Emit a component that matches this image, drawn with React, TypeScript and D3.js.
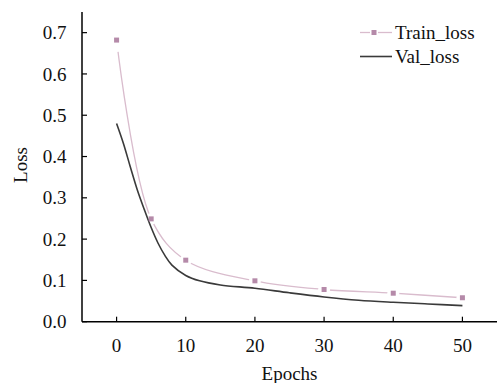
import React from "react";
import * as d3 from "d3";

const trainEpochs = [0, 5, 10, 20, 30, 40, 50];
const trainLoss = [0.682, 0.249, 0.149, 0.099, 0.078, 0.069, 0.058];
const valEpochs = [0, 1, 2, 3, 4, 5, 6, 7, 8, 10, 12, 15, 20, 25, 30, 35, 40, 45, 50];
const valLoss = [0.48, 0.431, 0.374, 0.319, 0.272, 0.228, 0.19, 0.16, 0.137, 0.112, 0.099, 0.089, 0.081, 0.07, 0.06, 0.052, 0.047, 0.043, 0.039];
const xTicks = [0, 10, 20, 30, 40, 50];
const yTicks = [0.0, 0.1, 0.2, 0.3, 0.4, 0.5, 0.6, 0.7];

const W = 497, H = 383;
const FONT = "'Liberation Serif', 'Times New Roman', serif";

export default function App() {
  const x = d3.scaleLinear().domain([-5, 55]).range([82, 497]);
  const y = d3.scaleLinear().domain([0, 0.75]).range([321.7, 12]);
  const trainData = trainEpochs.map((e, i) => [e, trainLoss[i]] as [number, number]);
  const valData = valEpochs.map((e, i) => [e, valLoss[i]] as [number, number]);
  const line = d3.line<[number, number]>().x(d => x(d[0])).y(d => y(d[1])).curve(d3.curveCatmullRom.alpha(0.5));
  const trainColor = "#d9bccd";
  const markerColor = "#b58aa9";
  const ms = 5;
  return (
    <svg width={W} height={H} style={{ position: "absolute", left: 0, top: 0 }} fontFamily={FONT}>
      <defs>
        <mask id="gapmask" maskUnits="userSpaceOnUse" x={0} y={0} width={W} height={H}>
          <rect x={0} y={0} width={W} height={H} fill="white" />
          {trainData.map((d, i) => (
            <circle key={i} cx={x(d[0])} cy={y(d[1])} r={i === 0 ? 12 : 6} fill="black" />
          ))}
        </mask>
      </defs>
      <path d={line(valData) || ""} fill="none" stroke="#3a3a3a" strokeWidth={1.6} />
      <path d={line(trainData) || ""} fill="none" stroke={trainColor} strokeWidth={1.3} mask="url(#gapmask)" />
      {trainData.map((d, i) => (
        <rect key={i} x={x(d[0]) - ms / 2} y={y(d[1]) - ms / 2} width={ms} height={ms} fill={markerColor} />
      ))}
      {/* axes */}
      <line x1={82} x2={82} y1={y.range()[1]} y2={y(0)} stroke="#000" strokeWidth={1.5} />
      <line x1={82} x2={497} y1={y(0)} y2={y(0)} stroke="#000" strokeWidth={1.5} />
      {yTicks.map(t => (
        <g key={t}>
          <line x1={82} x2={87} y1={y(t)} y2={y(t)} stroke="#000" strokeWidth={1.2} />
          <text x={66.5} y={y(t)} dy="0.35em" textAnchor="end" fontSize={19} fill="#111">{t.toFixed(1)}</text>
        </g>
      ))}
      {xTicks.map(t => (
        <g key={t}>
          <line x1={x(t)} x2={x(t)} y1={y(0)} y2={y(0) - 5} stroke="#000" strokeWidth={1.2} />
          <text x={x(t)} y={352} textAnchor="middle" fontSize={19} fill="#111">{t}</text>
        </g>
      ))}
      <text x={289.5} y={380} textAnchor="middle" fontSize={19} fill="#111">Epochs</text>
      <text transform={`translate(27,165) rotate(-90)`} textAnchor="middle" fontSize={19} fill="#111">Loss</text>
      {/* legend */}
      <line x1={360} x2={370} y1={32.5} y2={32.5} stroke={trainColor} strokeWidth={1.3} />
      <line x1={378} x2={392} y1={32.5} y2={32.5} stroke={trainColor} strokeWidth={1.3} />
      <rect x={374 - ms / 2} y={32.5 - ms / 2} width={ms} height={ms} fill={markerColor} />
      <text x={395} y={32.5} dy="0.35em" fontSize={19} fill="#111">Train_loss</text>
      <line x1={360} x2={392} y1={56.5} y2={56.5} stroke="#3a3a3a" strokeWidth={1.6} />
      <text x={395} y={56.5} dy="0.35em" fontSize={19} fill="#111">Val_loss</text>
    </svg>
  );
}
